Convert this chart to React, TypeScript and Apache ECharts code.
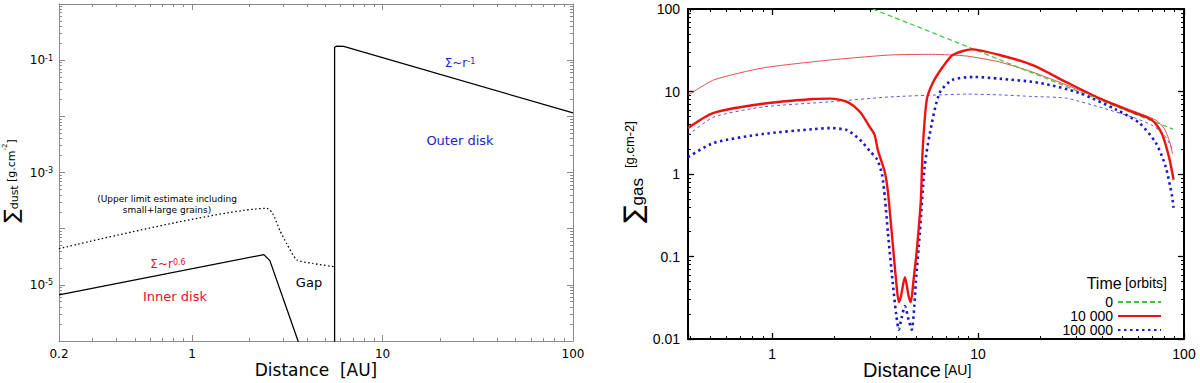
import React, { useEffect, useRef } from 'react';
import * as echarts from 'echarts';

// ---------- Left panel: dust surface density (g.cm^-2) vs distance (AU) ----------
const dustInnerDisk: [number, number][] = [
  [0.2, 6.6e-6], [2.38, 3.45e-5], [2.56, 2.7e-5], [3.6, 1.0e-6], [3.8, 6e-7],
];
const dustOuterDisk: [number, number][] = [
  [5.6, 5e-7], [5.6, 0.17], [5.75, 0.178], [6.25, 0.176], [100, 0.0115],
];
const dustUpperLimit: [number, number][] = [
  [0.2, 4.4e-5], [2.47, 2.3e-4], [2.65, 1.86e-4], [2.89, 9.3e-5], [3.14, 5.4e-5],
  [3.54, 2.8e-5], [4.3, 2.4e-5], [5.6, 2.1e-5],
];
const dustXTicks = [0.2, 1, 10, 100];
const dustXLabels = ['0.2', '1', '10', '100'];
const dustYTicks = [1e-1, 1e-3, 1e-5];
const dustYLabels = ['10{e|-1}', '10{e|-3}', '10{e|-5}'];

// ---------- Right panel: gas surface density (g.cm-2) vs distance (AU) ----------
const gasTime0: [number, number][] = [
  [3.08, 100], [5, 62], [10, 31], [20, 15.4], [40, 7.7], [60, 5.1], [88.5, 3.5],
];
const gasInit10k: [number, number][] = [
  [0.39, 9.0], [0.52, 13.8], [0.9, 19.3], [1.91, 24.1], [3.73, 27.7], [6.0, 28.2],
  [8.8, 26.9], [12.7, 22.8], [18.4, 17.2], [26.8, 12], [38.7, 8.3], [56, 5.9],
  [73, 4.5], [80, 3.6], [85, 2.5], [88, 1.75],
];
const gasInit100k: [number, number][] = [
  [0.39, 2.97], [0.52, 4.9], [0.9, 6.5], [1.91, 7.5], [3.73, 8.6], [6.5, 9.1],
  [8.8, 9.3], [12.7, 9.1], [18.4, 8.7], [26.8, 8.3], [38.7, 6.5], [56, 4.9],
  [70, 3.9], [80, 3.0], [88, 2.0],
];
const gas10k: [number, number][] = [
  [0.39, 3.6], [0.52, 5.5], [0.9, 7.1], [1.58, 8.1], [1.91, 8.2], [2.31, 7.5],
  [2.67, 5.65], [2.98, 3.7], [3.14, 3.0], [3.26, 1.95], [3.53, 1.03], [3.65, 0.6],
  [3.81, 0.19], [4.0, 0.05], [4.12, 0.028], [4.22, 0.033], [4.41, 0.056],
  [4.6, 0.033], [4.71, 0.028], [4.85, 0.05], [5.04, 0.12], [5.27, 0.48],
  [5.38, 1.95], [5.63, 7.9], [6.02, 12.7], [6.73, 19.8], [7.53, 27.7], [9.3, 32.4],
  [12.7, 27.7], [18.4, 20.9], [26.8, 13], [38.7, 8.3], [56, 5.65], [70, 4.5],
  [78, 3.1], [84.6, 1.6], [89, 0.85],
];
const gas100k: [number, number][] = [
  [0.39, 1.6], [0.52, 2.38], [0.9, 3.05], [1.58, 3.5], [1.91, 3.6], [2.31, 3.4],
  [2.67, 2.6], [2.98, 1.9], [3.23, 1.5], [3.41, 1.0], [3.53, 0.5], [3.65, 0.19],
  [3.85, 0.048], [4.0, 0.02], [4.12, 0.013], [4.25, 0.018], [4.41, 0.025],
  [4.6, 0.017], [4.76, 0.013], [4.9, 0.025], [4.98, 0.048], [5.21, 0.19],
  [5.5, 1.22], [5.83, 3.1], [6.5, 9.6], [7.5, 13.8], [9.6, 15], [12.7, 14.3],
  [19.9, 12.7], [31, 9.6], [47, 6.0], [60.7, 4.15], [73, 2.38], [81.5, 1.22],
  [87.6, 0.53], [89, 0.39],
];
const gasXTicks = [1, 10, 100];
const gasXLabels = ['1', '10', '100'];
const gasYTicks = [0.01, 0.1, 1, 10, 100];
const gasYLabels = ['0.01', '0.1', '1', '10', '100'];
const legendNames = ['0', '10 000', '100 000'];

const pick = (ticks: number[], labels: string[]) => (v: number) => {
  const i = ticks.findIndex((t) => Math.abs(Math.log10(v) - Math.log10(t)) < 0.01);
  return i >= 0 ? labels[i] : '';
};

const GREY = '#8a8a8a';
const DV = 'DejaVu Sans';
const LS = 'Liberation Sans';

function leftAxis(kind: 'x' | 'y', pos: string, showLabel: boolean, extra: any) {
  return {
    type: 'log',
    gridIndex: 0,
    position: pos,
    axisLine: { show: true, lineStyle: { color: GREY, width: 1 } },
    axisTick: { show: true, inside: true, length: 6, lineStyle: { color: GREY, width: 1 } },
    minorTick: { show: true, splitNumber: 9, length: 3, lineStyle: { color: GREY, width: 1 } },
    splitLine: { show: false },
    minorSplitLine: { show: false },
    axisLabel: {
      show: showLabel,
      color: '#000',
      fontFamily: DV,
      fontSize: 12,
      margin: kind === 'x' ? 7 : 6,
      rich: { e: { fontSize: 8, verticalAlign: 'top', fontFamily: DV, color: '#000' } },
    },
    ...extra,
  };
}

function rightAxis(kind: 'x' | 'y', pos: string, showLabel: boolean, extra: any) {
  return {
    type: 'log',
    gridIndex: 1,
    position: pos,
    axisLine: { show: true, lineStyle: { color: '#000', width: 2 } },
    axisTick: { show: true, inside: true, length: 6, lineStyle: { color: '#000', width: 1.3 } },
    minorTick: { show: true, splitNumber: 9, length: 3, lineStyle: { color: '#000', width: 1 } },
    splitLine: { show: false },
    minorSplitLine: { show: false },
    axisLabel: {
      show: showLabel,
      color: '#000',
      fontFamily: LS,
      fontSize: 14,
      margin: 8,
    },
    ...extra,
  };
}

const RED = '#dd1133';
const BLUE = '#2222cc';

export default function App() {
  const ref = useRef<HTMLDivElement>(null);
  useEffect(() => {
    const chart = echarts.init(ref.current!, null, { renderer: 'svg' });
    const option: any = {
      animation: false,
      backgroundColor: '#fff',
      textStyle: { fontFamily: DV },
      grid: [
        { left: 59, top: 4, width: 514, height: 337, outerBoundsMode: 'none' },
        { left: 688, top: 9, width: 496, height: 330, outerBoundsMode: 'none' },
      ],
      xAxis: [
        leftAxis('x', 'bottom', true, { min: 0.2, max: 100 }),
        leftAxis('x', 'top', false, { min: 0.2, max: 100 }),
        rightAxis('x', 'bottom', true, { min: 0.39, max: 100 }),
        rightAxis('x', 'top', false, { min: 0.39, max: 100 }),
      ],
      yAxis: [
        leftAxis('y', 'left', true, { min: 1e-6, max: 1 }),
        leftAxis('y', 'right', false, { min: 1e-6, max: 1 }),
        rightAxis('y', 'left', true, { min: 0.01, max: 100 }),
        rightAxis('y', 'right', false, { min: 0.01, max: 100 }),
      ],
      legend: {
        data: legendNames,
        orient: 'vertical',
        align: 'right',
        right: 33,
        top: 290,
        itemWidth: 43,
        itemHeight: 8,
        itemGap: 0,
        selectedMode: false,
        itemStyle: { opacity: 0 },
        textStyle: { fontFamily: LS, fontSize: 14, color: '#000', lineHeight: 14 },
      },
      series: [
        {
          type: 'line', name: 'dustInner', xAxisIndex: 0, yAxisIndex: 0, data: dustInnerDisk,
          symbol: 'none', silent: true, lineStyle: { color: '#000', width: 1.3 },
        },
        {
          type: 'line', name: 'dustOuter', xAxisIndex: 0, yAxisIndex: 0, data: dustOuterDisk,
          symbol: 'none', silent: true, lineStyle: { color: '#000', width: 1.3 },
        },
        {
          type: 'line', name: 'dustUpper', xAxisIndex: 0, yAxisIndex: 0, data: dustUpperLimit,
          symbol: 'none', silent: true, smooth: 0.2, lineStyle: { color: '#000', width: 1.3, type: [1.5, 2.5] },
        },
        {
          type: 'line', name: 'init10k', xAxisIndex: 2, yAxisIndex: 2, data: gasInit10k,
          symbol: 'none', silent: true, smooth: 0.2, lineStyle: { color: '#e03a3a', width: 0.9 },
        },
        {
          type: 'line', name: 'init100k', xAxisIndex: 2, yAxisIndex: 2, data: gasInit100k,
          symbol: 'none', silent: true, smooth: 0.2, lineStyle: { color: '#4444dd', width: 0.9, type: [3, 3] },
        },
        {
          type: 'line', name: legendNames[0], xAxisIndex: 2, yAxisIndex: 2, data: gasTime0,
          symbol: 'none', silent: true, color: '#33cc33', lineStyle: { color: '#33cc33', width: 1.2, type: [5, 3] },
        },
        {
          type: 'line', name: legendNames[2], xAxisIndex: 2, yAxisIndex: 2, data: gas100k,
          symbol: 'none', silent: true, smooth: 0.25, color: '#1a1acc', lineStyle: { color: '#1a1acc', width: 2.6, type: [2.5, 3.5] },
        },
        {
          type: 'line', name: legendNames[1], xAxisIndex: 2, yAxisIndex: 2, data: gas10k,
          symbol: 'none', silent: true, smooth: 0.25, color: '#ee1111', lineStyle: { color: '#ee1111', width: 2.4 },
        },
      ],
      graphic: [
        {
          type: 'text', x: 11, y: 181, rotation: Math.PI / 2,
          style: {
            text: '{s|∑}{d|dust} {u|[g.cm}{e|-2}{u|]}', align: 'center', verticalAlign: 'middle', fill: '#000',
            rich: {
              s: { fontFamily: DV, fontSize: 20, fill: '#000' },
              d: { fontFamily: DV, fontSize: 11, fill: '#000', padding: [6, 0, 0, 0] },
              u: { fontFamily: DV, fontSize: 11, fill: '#000' },
              e: { fontFamily: DV, fontSize: 7, fill: '#000', verticalAlign: 'top' },
            },
          },
        },
        {
          type: 'text', x: 316, y: 370,
          style: { text: 'Distance  [AU]', fontFamily: DV, fontSize: 17, fill: '#000', align: 'center', verticalAlign: 'middle' },
        },
        {
          type: 'text', x: 167, y: 204,
          style: {
            text: '(Upper limit estimate including\nsmall+large grains)', fontFamily: DV, fontSize: 9, lineHeight: 11,
            fill: '#000', align: 'center', verticalAlign: 'middle',
          },
        },
        {
          type: 'text', x: 168, y: 264,
          style: {
            text: '{b|Σ~r}{e|0.6}', align: 'center', verticalAlign: 'middle',
            rich: {
              b: { fontFamily: DV, fontSize: 12, fill: RED },
              e: { fontFamily: DV, fontSize: 8, fill: RED, verticalAlign: 'top' },
            },
          },
        },
        {
          type: 'text', x: 175, y: 296,
          style: { text: 'Inner disk', fontFamily: DV, fontSize: 13, fill: RED, align: 'center', verticalAlign: 'middle' },
        },
        {
          type: 'text', x: 309, y: 282,
          style: { text: 'Gap', fontFamily: DV, fontSize: 13, fill: '#000', align: 'center', verticalAlign: 'middle' },
        },
        {
          type: 'text', x: 460, y: 63,
          style: {
            text: '{b|Σ~r}{e|-1}', align: 'center', verticalAlign: 'middle',
            rich: {
              b: { fontFamily: DV, fontSize: 12, fill: BLUE },
              e: { fontFamily: DV, fontSize: 8, fill: BLUE, verticalAlign: 'top' },
            },
          },
        },
        {
          type: 'text', x: 460, y: 140,
          style: { text: 'Outer disk', fontFamily: DV, fontSize: 13, fill: BLUE, align: 'center', verticalAlign: 'middle' },
        },
        {
          type: 'text', x: 633, y: 172, rotation: Math.PI / 2,
          style: {
            text: '{s|∑}{g|gas}   {u|[g.cm-2]}', align: 'center', verticalAlign: 'middle', fill: '#000',
            rich: {
              s: { fontFamily: DV, fontSize: 26, fill: '#000' },
              g: { fontFamily: LS, fontSize: 17, fill: '#000', padding: [8, 0, 0, 0] },
              u: { fontFamily: LS, fontSize: 13, fill: '#000', padding: [0, 0, 8, 0] },
            },
          },
        },
        {
          type: 'text', x: 863, y: 370,
          style: {
            text: '{d|Distance} {a|[AU]}', align: 'left', verticalAlign: 'middle',
            rich: {
              d: { fontFamily: LS, fontSize: 20, fill: '#000' },
              a: { fontFamily: LS, fontSize: 14, fill: '#000' },
            },
          },
        },
        {
          type: 'text', x: 1167, y: 283,
          style: {
            text: '{t|Time} {o|[orbits]}', align: 'right', verticalAlign: 'middle',
            rich: {
              t: { fontFamily: LS, fontSize: 16, fill: '#000' },
              o: { fontFamily: LS, fontSize: 14, fill: '#000' },
            },
          },
        },
      ],
    };
    option.xAxis[0].axisLabel = { ...option.xAxis[0].axisLabel, formatter: pick(dustXTicks, dustXLabels) };
    option.yAxis[0].axisLabel = { ...option.yAxis[0].axisLabel, formatter: pick(dustYTicks, dustYLabels) };
    option.xAxis[2].axisLabel = { ...option.xAxis[2].axisLabel, formatter: pick(gasXTicks, gasXLabels) };
    option.yAxis[2].axisLabel = { ...option.yAxis[2].axisLabel, formatter: pick(gasYTicks, gasYLabels) };
    chart.setOption(option);
    return () => chart.dispose();
  }, []);
  return (
    <div
      ref={ref}
      style={{ position: 'absolute', left: 0, top: 0, width: 1200, height: 383, background: '#fff' }}
    />
  );
}
